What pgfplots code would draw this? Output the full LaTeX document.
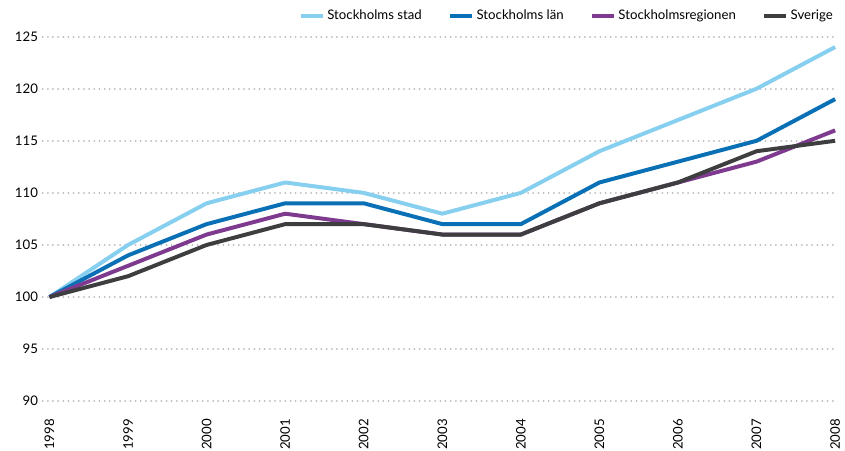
\documentclass[border=0pt]{standalone}
\usepackage{fontspec}
\setmainfont{Lato}
\usepackage{pgfplots}
\pgfplotsset{compat=1.18}
\definecolor{cstad}{HTML}{86CFEE}
\definecolor{clan}{HTML}{0A70B6}
\definecolor{creg}{HTML}{7D3A8E}
\definecolor{csve}{HTML}{3E3E40}
\definecolor{cgrid}{HTML}{B8B8B8}
\begin{document}
\begin{tikzpicture}[x=0.75pt,y=0.75pt]
\begin{axis}[
  scale only axis, width=601.5pt, height=276pt,
  xmin=1997.912, xmax=2008.025, ymin=90, ymax=125,
  axis line style={draw=none},
  xtick={1998,...,2008}, ytick={90,95,...,125},
  x tick label style={rotate=90, anchor=east, font=\fontsize{10}{11}\selectfont},
  xticklabel shift=10pt,
  y tick label style={font=\fontsize{10}{11}\selectfont},
  /pgf/number format/1000 sep={},
  /pgf/number format/assume math mode=true,
  ymajorgrids, major grid style={cgrid, line width=1.5pt, dash pattern=on 0.01pt off 3.9pt, line cap=round},
  major tick length=0pt,
  clip=false,
  legend columns=4,
  legend style={at={(rel axis cs:1,1)}, anchor=east, yshift=15.75pt, xshift=2pt, draw=none, fill=none,
    font=\fontsize{10}{11}\selectfont,
    /tikz/every even column/.append style={column sep=18pt}},
  legend image code/.code={\draw[#1, line width=3pt] (0pt,0pt) -- (16.5pt,0pt);},
  every axis plot/.append style={line width=3pt, line join=round},
]
\coordinate (bl) at (rel axis cs:0,0);
\coordinate (tr) at (rel axis cs:1,1);
\addplot[cstad, mark=none] coordinates {(1998,100)(1999,105)(2000,109)(2001,111)(2002,110)(2003,108)(2004,110)(2005,114)(2006,117)(2007,120)(2008,124)};
\addlegendentry{Stockholms stad}
\addplot[clan, mark=none] coordinates {(1998,100)(1999,104)(2000,107)(2001,109)(2002,109)(2003,107)(2004,107)(2005,111)(2006,113)(2007,115)(2008,119)};
\addlegendentry{Stockholms län}
\addplot[creg, mark=none] coordinates {(1998,100)(1999,103)(2000,106)(2001,108)(2002,107)(2003,106)(2004,106)(2005,109)(2006,111)(2007,113)(2008,116)};
\addlegendentry{Stockholmsregionen}
\addplot[csve, mark=none] coordinates {(1998,100)(1999,102)(2000,105)(2001,107)(2002,107)(2003,106)(2004,106)(2005,109)(2006,111)(2007,114)(2008,115)};
\addlegendentry{Sverige}
\end{axis}
\pgfresetboundingbox
\path ([shift={(-32.25pt,-37pt)}]bl) rectangle ([shift={(6pt,27.75pt)}]tr);
\end{tikzpicture}
\end{document}
